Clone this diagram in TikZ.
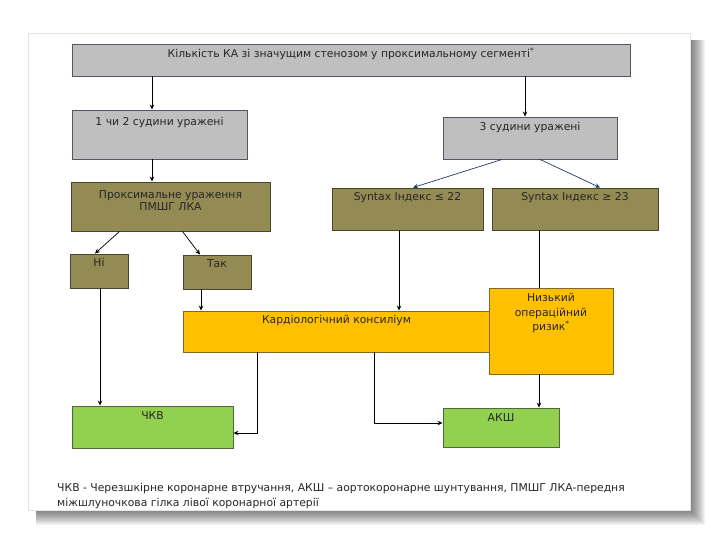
\documentclass[tikz,border=0pt]{standalone}
\usepackage{fontspec}
\setmainfont{DejaVu Sans}
\usetikzlibrary{arrows.meta,positioning}
\definecolor{grayfill}{HTML}{BFBFBF}
\definecolor{grayedge}{HTML}{55556A}
\definecolor{olivefill}{HTML}{948A54}
\definecolor{oliveedge}{HTML}{4A4530}
\definecolor{orangefill}{HTML}{FFC000}
\definecolor{orangeedge}{HTML}{7F6A20}
\definecolor{greenfill}{HTML}{92D050}
\definecolor{greenedge}{HTML}{4F6A38}
\definecolor{bluearrow}{HTML}{1F3A6F}
\begin{document}
\begin{tikzpicture}[x=1pt,y=-1pt,
  box/.style={rectangle, inner sep=0pt, line width=0.9pt},
  graybox/.style={box, fill=grayfill, draw=grayedge},
  olivebox/.style={box, fill=olivefill, draw=oliveedge},
  orangebox/.style={box, fill=orangefill, draw=orangeedge},
  greenbox/.style={box, fill=greenfill, draw=greenedge},
  lbl/.style={inner sep=0pt, align=center, font=\fontsize{10.8}{14.5}\selectfont, text=black!85},
  arr/.style={line width=0.7pt, -{Stealth[length=5pt,width=4.5pt]}},
  plain/.style={line width=0.7pt},
  barr/.style={arr, draw=bluearrow}
]
\useasboundingbox (0,0) rectangle (720,540);
% page shadow
\foreach \i in {1,...,15}{
  \fill[black, opacity=0.045] (36,40) rectangle (690+\i,510+\i);
}
\fill[white] (28,33) rectangle (690,510);
\draw[black!10, line width=0.5pt] (28,33) rectangle (690,510);

% boxes
\node[graybox, minimum width=558pt, minimum height=32pt] (top) at (351,60) {};
\node[lbl] at ([yshift=-10pt]top.north) {Кількість КА зі значущим стенозом у проксимальному сегменті\textsuperscript{*}};

\node[graybox, minimum width=175pt, minimum height=49pt] (two) at (159.5,134.5) {};
\node[lbl] at ([yshift=-13pt]two.north) {1 чи 2 судини уражені};

\node[graybox, minimum width=174pt, minimum height=42pt] (three) at (530,138) {};
\node[lbl] at ([yshift=-11pt]three.north) {3 судини уражені};

\node[olivebox, minimum width=199pt, minimum height=49pt] (prox) at (170.5,206.5) {};
\node[lbl, font=\fontsize{10.8}{12.5}\selectfont] at ([yshift=-19pt]prox.north) {Проксимальне ураження\\ПМШГ ЛКА};

\node[olivebox, minimum width=58pt, minimum height=34pt] (ni) at (99,271) {};
\node[lbl] at ([yshift=-9pt]ni.north) {Ні};

\node[olivebox, minimum width=68pt, minimum height=34pt] (tak) at (217,272) {};
\node[lbl] at ([yshift=-9pt]tak.north) {Так};

\node[olivebox, minimum width=151pt, minimum height=42pt] (syn1) at (407.5,209) {};
\node[lbl] at ([yshift=-10pt]syn1.north) {Syntax Індекс ≤ 22};

\node[olivebox, minimum width=166pt, minimum height=42pt] (syn2) at (575,209) {};
\node[lbl] at ([yshift=-10pt]syn2.north) {Syntax Індекс ≥ 23};

\node[orangebox, minimum width=307pt, minimum height=41pt] (kons) at (336.5,331.5) {};
\node[lbl] at ([yshift=-10pt]kons.north) {Кардіологічний консиліум};

\node[orangebox, minimum width=124pt, minimum height=86pt] (risk) at (551,331) {};
\node[lbl] at ([yshift=-25.5pt]risk.north) {Низький\\операційний\\ризик\textsuperscript{*}};

\node[greenbox, minimum width=161pt, minimum height=42pt] (pci) at (152.5,427) {};
\node[lbl] at ([yshift=-10pt]pci.north) {ЧКВ};

\node[greenbox, minimum width=116pt, minimum height=39pt] (cabg) at (501,427.5) {};
\node[lbl] at ([yshift=-10pt]cabg.north) {АКШ};

% connector x positions
\coordinate (cA) at (152,0);
\coordinate (cB) at (525,0);
\coordinate (cNi) at (100,0);
\coordinate (cTak) at (201,0);
\coordinate (cS1) at (399,0);
\coordinate (cS2) at (539,0);
\coordinate (cK1) at (257,0);
\coordinate (cK2) at (374,0);

% connectors
\draw[arr] (top.south -| cA) -- (two.north -| cA);
\draw[arr] (top.south -| cB) -- (three.north -| cB);
\draw[arr] (two.south -| cA) -- (prox.north -| cA);
\draw[arr] ([xshift=-51pt]prox.south) -- ([xshift=-4pt]ni.north);
\draw[arr] ([xshift=12pt]prox.south) -- ([xshift=-17pt]tak.north);
\draw[barr] ([xshift=-28pt]three.south) -- ([xshift=5.5pt]syn1.north);
\draw[barr] ([xshift=10pt]three.south) -- ([xshift=25pt]syn2.north);
\draw[arr] (tak.south -| cTak) -- (kons.north -| cTak);
\draw[arr] (syn1.south -| cS1) -- (kons.north -| cS1);
\draw[plain] (syn2.south -| cS2) -- (risk.north -| cS2);
\draw[arr] (ni.south -| cNi) -- (pci.north -| cNi);
\draw[arr] (kons.south -| cK1) |- ([yshift=-6pt]pci.east);
\draw[arr] (kons.south -| cK2) |- ([yshift=4.5pt]cabg.west);
\draw[arr] (risk.south -| cS2) -- (cabg.north -| cS2);

% footnote
\node[lbl, align=left, anchor=north west, font=\fontsize{10.8}{15}\selectfont] (note) at (57,483) {ЧКВ - Черезшкірне коронарне втручання, АКШ – аортокоронарне шунтування, ПМШГ ЛКА-передня\\міжшлуночкова гілка лівої коронарної артерії};
\end{tikzpicture}
\end{document}
